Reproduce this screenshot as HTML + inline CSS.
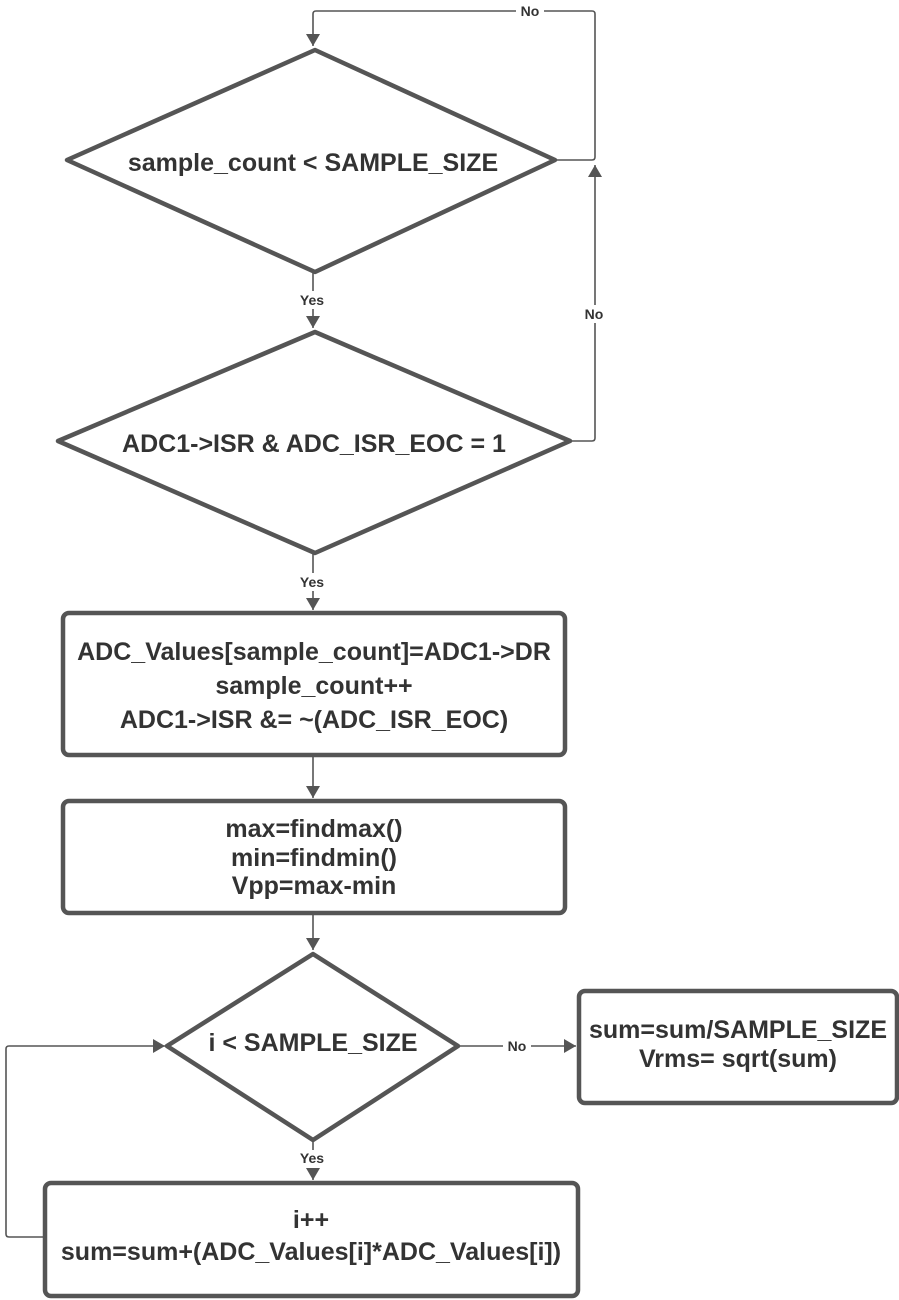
<!DOCTYPE html>
<html><head><meta charset="utf-8"><style>
html,body{margin:0;padding:0;background:#fff;width:899px;height:1300px;overflow:hidden}
text{font-family:"Liberation Sans",Arial,sans-serif;font-weight:bold;fill:#333}
</style></head><body>
<svg width="899" height="1300" viewBox="0 0 899 1300" xmlns="http://www.w3.org/2000/svg">
<defs><marker id="b" markerWidth="12" markerHeight="14" refX="12" refY="7" orient="auto" markerUnits="userSpaceOnUse"><path d="M0,0 L12,7 L0,14 z" fill="#555"/></marker></defs>
<g fill="none" stroke="#555" stroke-width="1.6">
<path d="M555,160 H592 Q595,160 595,157 V14 Q595,11 592,11 H316 Q313,11 313,14 V46" marker-end="url(#b)"/>
<path d="M570,441 H592 Q595,441 595,438 V165" marker-end="url(#b)"/>
<path d="M313,272 V328" marker-end="url(#b)"/>
<path d="M313,553 V610" marker-end="url(#b)"/>
<path d="M313,755 V798" marker-end="url(#b)"/>
<path d="M313,913 V950" marker-end="url(#b)"/>
<path d="M458,1046 H576" marker-end="url(#b)"/>
<path d="M313,1140 V1180" marker-end="url(#b)"/>
<path d="M44,1237 H9 Q6,1237 6,1234 V1049 Q6,1046 9,1046 H165" marker-end="url(#b)"/>
</g>
<g fill="#fff" stroke="#555" stroke-width="4.5" stroke-linejoin="round">
<polygon points="315,50 555,160 315,272 67,160"/>
<polygon points="315,332 570,441 315,553 58,441"/>
<rect x="63" y="613" width="502" height="142" rx="6"/>
<rect x="63" y="801" width="502" height="112" rx="6"/>
<polygon points="313,954 458,1046 313,1140 167,1046"/>
<rect x="579" y="991" width="318" height="112" rx="6"/>
<rect x="45" y="1183" width="533" height="113" rx="6"/>
</g>
<g font-size="14" text-anchor="middle">
<rect x="516" y="3" width="28" height="16" fill="#fff"/><text x="530" y="16">No</text>
<rect x="580" y="305" width="28" height="18" fill="#fff"/><text x="594" y="319">No</text>
<rect x="295" y="291" width="36" height="18" fill="#fff"/><text x="312" y="305">Yes</text>
<rect x="295" y="573" width="36" height="18" fill="#fff"/><text x="312" y="587">Yes</text>
<rect x="503" y="1038" width="28" height="16" fill="#fff"/><text x="517" y="1051">No</text>
<rect x="295" y="1150" width="36" height="18" fill="#fff"/><text x="312" y="1163">Yes</text>
</g>
<g font-size="25" text-anchor="middle">
<text x="313" y="171">sample_count &lt; SAMPLE_SIZE</text>
<text x="314" y="452">ADC1-&gt;ISR &amp; ADC_ISR_EOC = 1</text>
<text x="314" y="660">ADC_Values[sample_count]=ADC1-&gt;DR</text>
<text x="314" y="694">sample_count++</text>
<text x="314" y="728">ADC1-&gt;ISR &amp;= ~(ADC_ISR_EOC)</text>
<text x="314" y="837">max=findmax()</text>
<text x="314" y="866">min=findmin()</text>
<text x="314" y="894">Vpp=max-min</text>
<text x="313" y="1051">i &lt; SAMPLE_SIZE</text>
<text x="738" y="1038">sum=sum/SAMPLE_SIZE</text>
<text x="738" y="1067">Vrms= sqrt(sum)</text>
<text x="311" y="1228">i++</text>
<text x="311" y="1260">sum=sum+(ADC_Values[i]*ADC_Values[i])</text>
</g>
</svg>
</body></html>
